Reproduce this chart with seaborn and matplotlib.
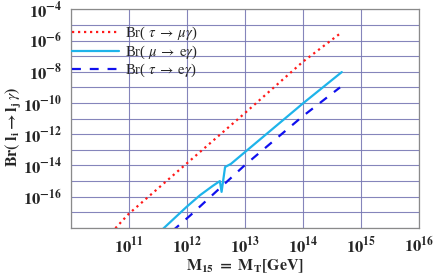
import matplotlib
matplotlib.use("Agg")
import matplotlib.pyplot as plt
import matplotlib.ticker as mticker
import numpy as np
import pandas as pd
import seaborn as sns

# 1. Data (log10 values)
tau_mu_logM = [10.7, 11.0, 12.0, 13.0, 14.0, 14.67]
tau_mu_logBr = [-18.3, -17.1, -13.87, -10.65, -7.36, -5.47]

mu_e_logM = [11.55, 12.0, 12.23, 12.45, 12.53, 12.57, 12.60, 12.66, 12.76, 13.0, 14.0, 14.67]
mu_e_logBr = [-18.2, -16.64, -15.9, -15.3, -15.1, -15.0, -15.69, -14.1, -13.9, -13.15, -10.03, -8.02]

tau_e_logM = [11.75, 12.06, 13.0, 14.0, 14.64]
tau_e_logBr = [-18.2, -17.2, -13.98, -10.84, -9.0]

labels = [r'Br( $\tau\; \rightarrow\; \mu\gamma$)',
          r'Br( $\mu\; \rightarrow\; \mathrm{e}\gamma$)',
          r'Br( $\tau\; \rightarrow\; \mathrm{e}\gamma$)']

x_major = [11, 12, 13, 14, 15, 16]
y_major = [-4, -6, -8, -10, -12, -14, -16]

def to_df(lm, lb):
    return pd.DataFrame({'M': np.power(10.0, lm), 'Br': np.power(10.0, lb)})

# 2. Style
sns.set_style("white")
plt.rcParams['font.family'] = ['Liberation Serif', 'DejaVu Serif']
plt.rcParams['mathtext.fontset'] = 'stix'

fig = plt.figure(figsize=(4.36, 2.73), dpi=100)
ax = fig.add_axes([0.162, 0.165, 0.799, 0.801])

sns.lineplot(data=to_df(tau_mu_logM, tau_mu_logBr), x='M', y='Br', ax=ax, sort=False,
             color='#ff1a1a', linewidth=1.6, linestyle=(0, (1, 1.7)), label=labels[0])
sns.lineplot(data=to_df(mu_e_logM, mu_e_logBr), x='M', y='Br', ax=ax, sort=False,
             color='#1eb4ea', linewidth=1.6, label=labels[1])
sns.lineplot(data=to_df(tau_e_logM, tau_e_logBr), x='M', y='Br', ax=ax, sort=False,
             color='#1010ee', linewidth=1.6, linestyle=(0, (4, 4)), label=labels[2])

ax.set_xscale('log')
ax.set_yscale('log')
ax.set_xlim(1e10, 1e16)
ax.set_ylim(1e-18, 1e-4)

# grid on every decade
ax.set_xticks([10.0 ** e for e in range(10, 17)])
ax.set_yticks([10.0 ** e for e in range(-18, -3)])
ax.xaxis.set_major_formatter(mticker.FuncFormatter(
    lambda v, p: r'$\mathbf{10^{%d}}$' % round(np.log10(v)) if round(np.log10(v)) in x_major else ''))
ax.yaxis.set_major_formatter(mticker.FuncFormatter(
    lambda v, p: r'$\mathbf{10^{%d}}$' % round(np.log10(v)) if round(np.log10(v)) in y_major else ''))
ax.xaxis.set_minor_locator(mticker.LogLocator(base=10, subs=np.arange(2, 10), numticks=20))
ax.yaxis.set_minor_locator(mticker.LogLocator(base=10, subs=np.arange(2, 10), numticks=30))
ax.xaxis.set_minor_formatter(mticker.NullFormatter())
ax.yaxis.set_minor_formatter(mticker.NullFormatter())

ax.grid(True, which='major', color='#7878b4', linewidth=0.8, alpha=0.9)
ax.tick_params(which='major', direction='in', length=4, width=0.7, color='#8a8a8a',
               labelsize=12, pad=6)
ax.tick_params(which='minor', direction='in', length=2, width=0.6, color='#8a8a8a')
for s in ax.spines.values():
    s.set_color('#8a8a8a')
    s.set_linewidth(0.9)

ax.set_xlabel(r'$\mathbf{M_{15}\ =\ M_{T}[GeV]}$', fontsize=11.5, labelpad=0)
ax.set_ylabel(r'$\mathbf{Br(\ l_i \rightarrow l_j}\,\gamma\mathbf{)}$', fontsize=11.5)
ax.yaxis.set_label_coords(-0.135, 0.46)

ax.legend(loc='upper left', bbox_to_anchor=(0.0, 0.935), frameon=False, fontsize=10.5,
          handlelength=3.2, handletextpad=0.45, labelspacing=0.08, borderpad=0.1,
          borderaxespad=0)

fig.savefig('out.png', dpi=100)
